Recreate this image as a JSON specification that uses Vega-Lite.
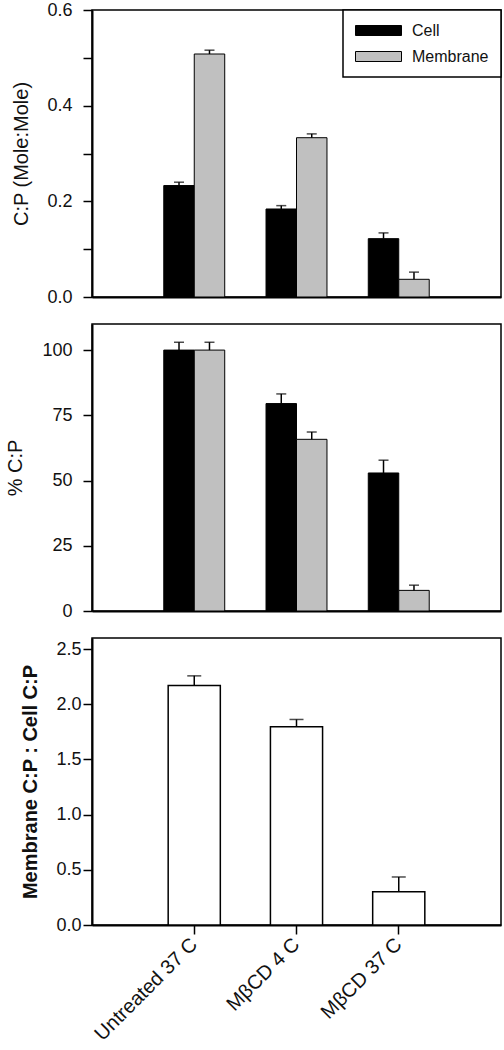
{
  "$schema": "https://vega.github.io/schema/vega-lite/v6.json",
  "padding": {"left": 4, "top": 0, "right": 0, "bottom": 0},
  "bounds": "flush",
  "spacing": 27,
  "config": {
    "font": "Liberation Sans",
    "view": {"stroke": "black", "strokeWidth": 1.5},
    "axis": {
      "domainColor": "black", "domainWidth": 2,
      "tickColor": "black", "tickWidth": 1.5, "tickSize": 9,
      "labelColor": "#111", "labelFontSize": 18, "labelFont": "Liberation Sans",
      "titleColor": "#111", "titleFontSize": 20, "titleFontWeight": "normal", "titleFont": "Liberation Sans",
      "grid": false
    },
    "legend": {
      "orient": "top-right", "offset": 0, "strokeColor": "black", "strokeWidth": 1.5, "fillColor": "white",
      "padding": 12, "rowPadding": 9, "symbolType": "M-1,-0.625H4.75V0.625H-1Z", "symbolSize": 256,
      "symbolStrokeColor": "black", "symbolStrokeWidth": 1, "labelFontSize": 16, "labelOffset": 40,
      "labelColor": "#111", "labelFont": "Liberation Sans", "cornerRadius": 0
    }
  },
  "datasets": {
    "grouped": [
      {"treatment": "Untreated 37 C", "fraction": "Cell", "cp": 0.233, "cp_upper": 0.240, "pct": 100, "pct_upper": 103},
      {"treatment": "Untreated 37 C", "fraction": "Membrane", "cp": 0.508, "cp_upper": 0.516, "pct": 100, "pct_upper": 103},
      {"treatment": "MβCD 4 C", "fraction": "Cell", "cp": 0.184, "cp_upper": 0.191, "pct": 79.5, "pct_upper": 83.2},
      {"treatment": "MβCD 4 C", "fraction": "Membrane", "cp": 0.333, "cp_upper": 0.341, "pct": 65.8, "pct_upper": 68.6},
      {"treatment": "MβCD 37 C", "fraction": "Cell", "cp": 0.122, "cp_upper": 0.134, "pct": 52.9, "pct_upper": 57.8},
      {"treatment": "MβCD 37 C", "fraction": "Membrane", "cp": 0.037, "cp_upper": 0.052, "pct": 7.9, "pct_upper": 9.9}
    ],
    "ratio": [
      {"treatment": "Untreated 37 C", "ratio": 2.17, "ratio_upper": 2.257},
      {"treatment": "MβCD 4 C", "ratio": 1.795, "ratio_upper": 1.862},
      {"treatment": "MβCD 37 C", "ratio": 0.301, "ratio_upper": 0.435}
    ]
  },
  "vconcat": [
    {
      "width": 409, "height": 287,
      "data": {"name": "grouped"},
      "encoding": {
        "x": {"field": "treatment", "type": "nominal", "sort": ["Untreated 37 C", "MβCD 4 C", "MβCD 37 C"],
              "scale": {"paddingInner": 0.404, "paddingOuter": 0.702},
              "axis": {"labels": false, "ticks": false, "title": null}},
        "xOffset": {"field": "fraction", "type": "nominal", "sort": ["Cell", "Membrane"], "scale": {"paddingInner": 0, "paddingOuter": 0}}
      },
      "layer": [
        {"mark": {"type": "bar", "stroke": "black", "strokeWidth": 1},
         "encoding": {
           "y": {"field": "cp", "type": "quantitative", "scale": {"domain": [0, 0.6]},
                 "axis": {"values": [0, 0.1, 0.2, 0.3, 0.4, 0.5, 0.6], "labelPadding": 11,
                          "labelExpr": "round(datum.value*10) % 2 === 0 ? format(datum.value, '.1f') : ''",
                          "title": "C:P (Mole:Mole)", "titleX": -61}},
           "color": {"field": "fraction", "type": "nominal", "scale": {"domain": ["Cell", "Membrane"], "range": ["#000000", "#c0c0c0"]}, "legend": {"title": null}}
         }},
        {"mark": {"type": "rule", "strokeWidth": 1.5, "color": "black"},
         "encoding": {"y": {"field": "cp", "type": "quantitative"}, "y2": {"field": "cp_upper"}}},
        {"mark": {"type": "tick", "orient": "horizontal", "size": 10, "thickness": 1.5, "color": "black"},
         "encoding": {"y": {"field": "cp_upper", "type": "quantitative"}}}
      ]
    },
    {
      "width": 409, "height": 287,
      "data": {"name": "grouped"},
      "encoding": {
        "x": {"field": "treatment", "type": "nominal", "sort": ["Untreated 37 C", "MβCD 4 C", "MβCD 37 C"],
              "scale": {"paddingInner": 0.404, "paddingOuter": 0.702},
              "axis": {"labels": false, "ticks": false, "title": null}},
        "xOffset": {"field": "fraction", "type": "nominal", "sort": ["Cell", "Membrane"], "scale": {"paddingInner": 0, "paddingOuter": 0}}
      },
      "layer": [
        {"mark": {"type": "bar", "stroke": "black", "strokeWidth": 1},
         "encoding": {
           "y": {"field": "pct", "type": "quantitative", "scale": {"domain": [0, 105]},
                 "axis": {"values": [0, 25, 50, 75, 100], "labelPadding": 11, "title": "% C:P", "titleX": -67}},
           "color": {"field": "fraction", "type": "nominal", "scale": {"domain": ["Cell", "Membrane"], "range": ["#000000", "#c0c0c0"]}, "legend": {"title": null}}
         }},
        {"mark": {"type": "rule", "strokeWidth": 1.5, "color": "black"},
         "encoding": {"y": {"field": "pct", "type": "quantitative"}, "y2": {"field": "pct_upper"}}},
        {"mark": {"type": "tick", "orient": "horizontal", "size": 10, "thickness": 1.5, "color": "black"},
         "encoding": {"y": {"field": "pct_upper", "type": "quantitative"}}}
      ]
    },
    {
      "width": 409, "height": 287,
      "data": {"name": "ratio"},
      "encoding": {
        "x": {"field": "treatment", "type": "nominal", "sort": ["Untreated 37 C", "MβCD 4 C", "MβCD 37 C"],
              "scale": {"paddingInner": 0.49, "paddingOuter": 0.745},
              "axis": {"title": null, "labelAngle": -45, "labelAlign": "right", "labelBaseline": "middle", "labelFontSize": 20, "labelPadding": 7}}
      },
      "layer": [
        {"mark": {"type": "bar", "stroke": "black", "strokeWidth": 1.5, "fill": "white"},
         "encoding": {
           "y": {"field": "ratio", "type": "quantitative", "scale": {"domain": [0, 2.5]},
                 "axis": {"values": [0, 0.5, 1, 1.5, 2, 2.5], "format": ".1f", "labelPadding": 2,
                          "title": "Membrane C:P : Cell C:P", "titleFontWeight": "bold", "titleX": -52}}
         }},
        {"mark": {"type": "rule", "strokeWidth": 1.5, "color": "black"},
         "encoding": {"y": {"field": "ratio", "type": "quantitative"}, "y2": {"field": "ratio_upper"}}},
        {"mark": {"type": "tick", "orient": "horizontal", "size": 14, "thickness": 1.5, "color": "black"},
         "encoding": {"y": {"field": "ratio_upper", "type": "quantitative"}}}
      ]
    }
  ]
}
